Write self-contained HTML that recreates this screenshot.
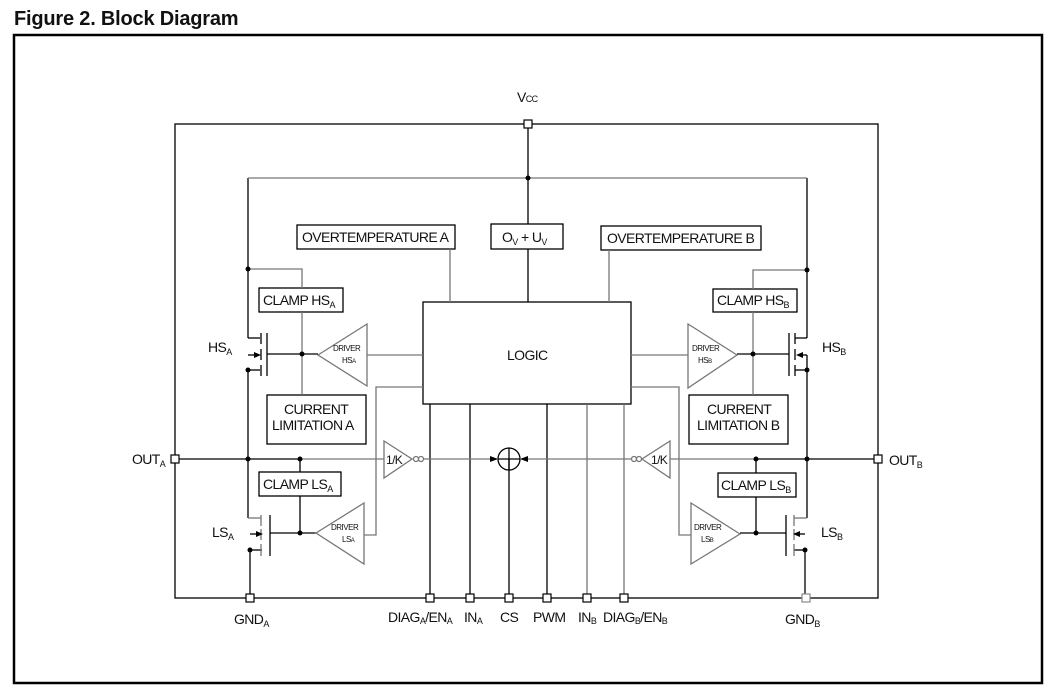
<!DOCTYPE html>
<html><head><meta charset="utf-8"><style>
body{margin:0;background:#fff}
svg{display:block}
text{font-family:"Liberation Sans",sans-serif;fill:#111}
.t{font-size:14px;letter-spacing:-0.6px}
.s{font-size:9px}
.d{font-size:8px;letter-spacing:-0.5px}
</style></head><body>
<svg width="1059" height="698" viewBox="0 0 1059 698" xmlns="http://www.w3.org/2000/svg">
<text x="14" y="25" style="font-size:20px;font-weight:bold;letter-spacing:-0.2px">Figure 2. Block Diagram</text>
<rect x="14" y="35" width="1028" height="648" fill="none" stroke="#000" stroke-width="2.5"/>

<g fill="none" stroke="#000" stroke-width="1.3">
<!-- outer loop -->
<rect x="175" y="124" width="703" height="474"/>
<line x1="528" y1="124" x2="528" y2="224"/>
<line x1="528" y1="249" x2="528" y2="302"/>
<!-- logic -->
<rect x="423" y="302" width="208" height="102"/>
<rect x="297" y="225" width="158" height="24"/>
<rect x="491" y="224" width="72" height="25"/>
<rect x="601" y="226" width="160" height="24"/>
<!-- left rails -->
<line x1="248" y1="178" x2="248" y2="338"/>
<line x1="248" y1="338" x2="260" y2="338"/>
<line x1="248" y1="370" x2="260" y2="370"/>
<line x1="248" y1="370" x2="248" y2="518"/>
<line x1="250" y1="550" x2="250" y2="598"/>
<line x1="267" y1="333" x2="267" y2="376"/>
<line x1="261" y1="333" x2="261" y2="344"/><line x1="261" y1="349" x2="261" y2="360"/><line x1="261" y1="365" x2="261" y2="376"/>
<line x1="248" y1="355" x2="258" y2="355"/>
<line x1="267" y1="354" x2="318" y2="354"/>
<line x1="175" y1="459" x2="300" y2="459"/>
<line x1="300" y1="459" x2="300" y2="472"/>
<line x1="300" y1="496" x2="300" y2="533"/>
<line x1="270" y1="515" x2="270" y2="556"/>
<line x1="270" y1="533" x2="316" y2="533"/>
<line x1="250" y1="550" x2="262" y2="550"/>
<line x1="250" y1="534" x2="258" y2="534"/>
<rect x="259" y="288" width="84" height="24"/>
<rect x="267" y="395" width="99" height="49"/>
<rect x="259" y="472" width="82" height="24"/>
<!-- right rails -->
<line x1="807" y1="178" x2="807" y2="338"/>
<line x1="807" y1="338" x2="795" y2="338"/>
<line x1="807" y1="370" x2="795" y2="370"/>
<line x1="807" y1="355" x2="807" y2="518"/>
<line x1="805" y1="550" x2="805" y2="598"/>
<line x1="789" y1="333" x2="789" y2="376"/>
<line x1="795" y1="333" x2="795" y2="344"/><line x1="795" y1="349" x2="795" y2="360"/><line x1="795" y1="365" x2="795" y2="376"/>
<line x1="807" y1="355" x2="799" y2="355"/>
<line x1="737" y1="354" x2="789" y2="354"/>
<line x1="756" y1="459" x2="878" y2="459"/>
<line x1="756" y1="459" x2="756" y2="473"/>
<line x1="756" y1="497" x2="756" y2="533"/>
<line x1="786" y1="515" x2="786" y2="556"/>
<line x1="740" y1="533" x2="786" y2="533"/>
<line x1="805" y1="550" x2="794" y2="550"/>
<line x1="805" y1="534" x2="797" y2="534"/>
<rect x="713" y="289" width="84" height="23"/>
<rect x="689" y="395" width="99" height="49"/>
<rect x="718" y="473" width="78" height="24"/>
<!-- bottom pins -->
<line x1="430" y1="404" x2="430" y2="598"/>
<line x1="470" y1="404" x2="470" y2="598"/>
<line x1="547" y1="404" x2="547" y2="598"/>
<line x1="509" y1="459" x2="509" y2="598"/>
<circle cx="509" cy="459" r="11"/>
<line x1="498" y1="459" x2="520" y2="459"/>
<line x1="509" y1="448" x2="509" y2="470"/>
</g>

<g fill="none" stroke="#777" stroke-width="1.3">
<line x1="248" y1="178" x2="807" y2="178"/>
<line x1="450" y1="249" x2="450" y2="302"/>
<line x1="609" y1="250" x2="609" y2="302"/>
<polyline points="248,269 302,269 302,288"/>
<line x1="302" y1="312" x2="302" y2="395"/>
<polyline points="807,270 753,270 753,289"/>
<line x1="753" y1="312" x2="753" y2="395"/>
<polygon points="318,355 367,324 367,386"/>
<polygon points="316,533 364,503 364,564"/>
<polygon points="737,355 688,324 688,388"/>
<polygon points="740,534 691,503 691,564"/>
<line x1="367" y1="355" x2="423" y2="355"/>
<line x1="631" y1="355" x2="688" y2="355"/>
<polyline points="423,387 376,387 376,535 364,535"/>
<polyline points="631,387 679,387 679,535 691,535"/>
<line x1="300" y1="459" x2="384" y2="459"/>
<polygon points="384,441 412,459 384,478"/>
<line x1="424" y1="459" x2="498" y2="459"/>
<line x1="520" y1="459" x2="632" y2="459"/>
<polygon points="670,441 642,459 670,478"/>
<line x1="670" y1="459" x2="756" y2="459"/>
<circle cx="416" cy="459" r="2.5"/><circle cx="421" cy="459" r="2.5"/>
<circle cx="634" cy="459" r="2.5"/><circle cx="639" cy="459" r="2.5"/>
<line x1="587" y1="404" x2="587" y2="598"/>
<line x1="624" y1="404" x2="624" y2="598"/>
<line x1="261" y1="515" x2="261" y2="526"/><line x1="261" y1="529" x2="261" y2="540"/><line x1="261" y1="544" x2="261" y2="556"/>
<line x1="248" y1="518" x2="261" y2="518"/>
<line x1="794" y1="515" x2="794" y2="526"/><line x1="794" y1="529" x2="794" y2="540"/><line x1="794" y1="544" x2="794" y2="556"/>
<line x1="807" y1="518" x2="794" y2="518"/>
</g>

<g fill="#000">
<circle cx="528" cy="178" r="2.5"/>
<circle cx="248" cy="269" r="2.5"/><circle cx="807" cy="270" r="2.5"/>
<circle cx="302" cy="354" r="2.5"/><circle cx="753" cy="354" r="2.5"/>
<circle cx="248" cy="370" r="2.5"/><circle cx="807" cy="370" r="2.5"/>
<circle cx="248" cy="459" r="2.5"/><circle cx="300" cy="459" r="2.5"/>
<circle cx="807" cy="459" r="2.5"/><circle cx="756" cy="459" r="2.5"/>
<circle cx="300" cy="533" r="2.5"/><circle cx="756" cy="533" r="2.5"/>
<circle cx="250" cy="550" r="2.5"/><circle cx="805" cy="550" r="2.5"/>
<polygon points="261,355 254,352 254,358"/>
<polygon points="796,355 803,352 803,358"/>
<polygon points="263,534 256,531 256,537"/>
<polygon points="793,534 800,531 800,537"/>
<polygon points="498,459 490,456 490,462"/>
<polygon points="520,459 528,456 528,462"/>
</g>

<g fill="#fff" stroke="#000" stroke-width="1.2">
<rect x="524" y="120" width="8" height="8"/>
<rect x="171" y="455" width="8" height="8"/>
<rect x="874" y="455" width="8" height="8"/>
<rect x="246" y="594" width="8" height="8"/>
<rect x="802" y="594" width="8" height="8" stroke="#888"/>
<rect x="426" y="594" width="8" height="8"/>
<rect x="466" y="594" width="8" height="8"/>
<rect x="505" y="594" width="8" height="8"/>
<rect x="543" y="594" width="8" height="8"/>
<rect x="583" y="594" width="8" height="8"/>
<rect x="620" y="594" width="8" height="8"/>
</g>

<g class="t">
<text x="517" y="102">V<tspan class="s">CC</tspan></text>
<text x="302" y="242">OVERTEMPERATURE A</text>
<text x="502" y="242">O<tspan class="s" dy="3">V</tspan><tspan dy="-3"> + U</tspan><tspan class="s" dy="3">V</tspan></text>
<text x="607" y="243">OVERTEMPERATURE B</text>
<text x="507" y="360">LOGIC</text>
<text x="263" y="305">CLAMP HS<tspan class="s" dy="3">A</tspan></text>
<text x="717" y="305">CLAMP HS<tspan class="s" dy="3">B</tspan></text>
<text x="284" y="414">CURRENT</text>
<text x="272" y="430">LIMITATION A</text>
<text x="707" y="414">CURRENT</text>
<text x="697" y="430">LIMITATION B</text>
<text x="263" y="489">CLAMP LS<tspan class="s" dy="3">A</tspan></text>
<text x="721" y="490">CLAMP LS<tspan class="s" dy="3">B</tspan></text>
<text x="208" y="352">HS<tspan class="s" dy="3">A</tspan></text>
<text x="212" y="537">LS<tspan class="s" dy="3">A</tspan></text>
<text x="822" y="352">HS<tspan class="s" dy="3">B</tspan></text>
<text x="821" y="537">LS<tspan class="s" dy="3">B</tspan></text>
<text x="132" y="464">OUT<tspan class="s" dy="3">A</tspan></text>
<text x="889" y="465">OUT<tspan class="s" dy="3">B</tspan></text>
<text x="234" y="624">GND<tspan class="s" dy="3">A</tspan></text>
<text x="785" y="624">GND<tspan class="s" dy="3">B</tspan></text>
<text x="388" y="622">DIAG<tspan class="s" dy="2">A</tspan><tspan dy="-2">/EN</tspan><tspan class="s" dy="2">A</tspan></text>
<text x="464" y="622">IN<tspan class="s" dy="2">A</tspan></text>
<text x="500" y="622">CS</text>
<text x="533" y="622">PWM</text>
<text x="578" y="622">IN<tspan class="s" dy="2">B</tspan></text>
<text x="603" y="622">DIAG<tspan class="s" dy="2">B</tspan><tspan dy="-2">/EN</tspan><tspan class="s" dy="2">B</tspan></text>
<text x="386" y="464" style="font-size:12px">1/K</text>
<text x="651" y="464" style="font-size:12px">1/K</text>
</g>
<g class="d">
<text x="333" y="351">DRIVER</text><text x="342" y="363">HS<tspan style="font-size:6px">A</tspan></text>
<text x="331" y="530">DRIVER</text><text x="342" y="542">LS<tspan style="font-size:6px">A</tspan></text>
<text x="692" y="351">DRIVER</text><text x="698" y="363">HS<tspan style="font-size:6px">B</tspan></text>
<text x="694" y="530">DRIVER</text><text x="701" y="542">LS<tspan style="font-size:6px">B</tspan></text>
</g>
</svg>
</body></html>
